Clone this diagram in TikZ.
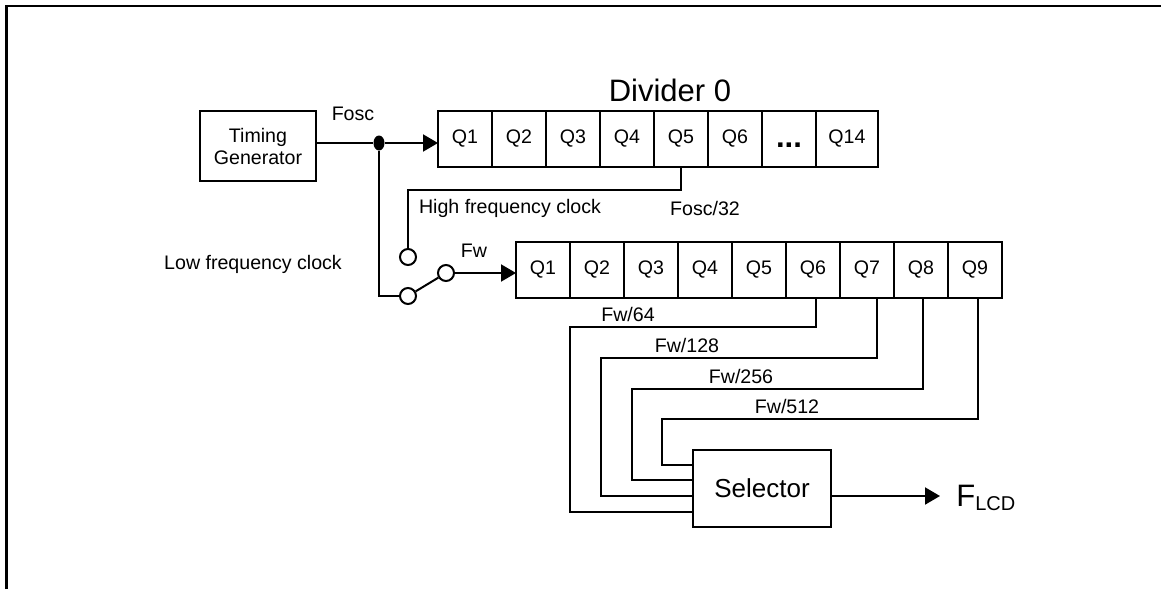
\documentclass[tikz,border=0pt]{standalone}
\usepackage{fontspec}
\setmainfont{Liberation Sans}
\usetikzlibrary{shapes.geometric, arrows.meta, positioning}
\newcommand{\lblfont}{\fontsize{9.8}{11}\selectfont}
\newcommand{\titlefont}{\fontsize{15.5}{18}\selectfont}
\newcommand{\selfont}{\fontsize{13}{15}\selectfont}
\tikzstyle{block} = [rectangle, 
draw=black, 
line width=1pt, 
minimum width=58pt, 
minimum height=35pt, 
text centered, 
font=\lblfont]
\tikzstyle{cell} = [rectangle, 
draw=black, 
line width=1pt, 
minimum width=27pt, 
minimum height=28pt, 
inner sep=0pt, 
outer sep=0pt, 
font=\lblfont]
\tikzstyle{terminal} = [circle, draw=black, fill=white, line width=1pt, minimum size=8pt, inner sep=0pt]
\tikzstyle{junction} = [ellipse, fill=black, minimum width=5.5pt, minimum height=7.5pt, inner sep=0pt]
\tikzstyle{lbl} = [font=\lblfont, inner sep=1pt]
\tikzstyle{title} = [font=\titlefont, inner sep=1pt]
\tikzstyle{frame} = [line width=1.4pt]
\tikzstyle{wire} = [line width=1pt]
\tikzstyle{arrow} = [line width=1pt, -{Triangle[length=7.5pt, width=8.5pt]}]

\begin{document}
\begin{tikzpicture}[x=0.5pt, y=-0.5pt]
\useasboundingbox (0,0) rectangle (1161,589);
\draw [frame] (6.5,589) -- (6.5,6) -- (1161,6);

\node (tg) [block, align=center] at (258,146) {Timing\\Generator};

\node (fork) [junction] at (379,143) {};

\node (fosc) [lbl] at (353,114) {Fosc};

% Divider 0
\node (d0q1) [cell, anchor=west] at (438,138.5) {Q1};
\node (d0q2) [cell, right=0pt of d0q1] {Q2};
\node (d0q3) [cell, right=0pt of d0q2] {Q3};
\node (d0q4) [cell, right=0pt of d0q3] {Q4};
\node (d0q5) [cell, right=0pt of d0q4] {Q5};
\node (d0q6) [cell, right=0pt of d0q5] {Q6};
\node (d0dots) [cell, right=0pt of d0q6] {\vphantom{Q}\raisebox{-2pt}{\titlefont\textbf{...}}};
\node (d0q14) [cell, right=0pt of d0dots, minimum width=31pt] {Q14};

\node (div0) [title] at (670,90) {Divider 0};

% clock switch
\node (hi) [terminal] at (408,257) {};
\node (lo) [terminal] at (408,296) {};
\node (sw) [terminal] at (446,273) {};

\node (hfc) [lbl] at (510,208) {High frequency clock};
\node (fdiv) [lbl] at (705,208) {Fosc/32};
\node (lfc) [lbl] at (253,264) {Low frequency clock};
\node (fw) [lbl] at (474,251) {Fw};

% second divider
\node (d1q1) [cell, anchor=west] at (516,270) {Q1};
\node (d1q2) [cell, right=0pt of d1q1] {Q2};
\node (d1q3) [cell, right=0pt of d1q2] {Q3};
\node (d1q4) [cell, right=0pt of d1q3] {Q4};
\node (d1q5) [cell, right=0pt of d1q4] {Q5};
\node (d1q6) [cell, right=0pt of d1q5] {Q6};
\node (d1q7) [cell, right=0pt of d1q6] {Q7};
\node (d1q8) [cell, right=0pt of d1q7] {Q8};
\node (d1q9) [cell, right=0pt of d1q8] {Q9};

\node (fw64) [lbl] at (628,314) {Fw/64};
\node (fw128) [lbl] at (687,345) {Fw/128};
\node (fw256) [lbl] at (741,376) {Fw/256};
\node (fw512) [lbl] at (787,406) {Fw/512};

\coordinate (r64) at (570,327);
\coordinate (r128) at (601,358);
\coordinate (r256) at (632,389);
\coordinate (r512) at (662,419);

\node (sel) [block, font=\selfont, minimum width=69pt, minimum height=38.5pt] at (762,488.5) {Selector};

\node (flcd) [anchor=base west, inner xsep=8pt] at (940,506) {\titlefont F\raisebox{-2pt}{\fontsize{10}{12}\selectfont LCD}};

\draw [wire] (tg.east |- fork) -- (fork);
\draw [arrow] (fork) -- (fork -| d0q1.west);
\draw [wire] (d0q5.south) -- ++(0,23) -| (hi);
\draw [wire] (fork) |- (lo);
\draw [wire] (lo) -- (sw);
\draw [arrow] (sw) -- (sw -| d1q1.west);
\draw [wire] ([xshift=1.5pt]d1q6.south) |- (r64) |- ([yshift=-11.75pt]sel.west);
\draw [wire] ([xshift=5pt]d1q7.south) |- (r128) |- ([yshift=-3.75pt]sel.west);
\draw [wire] ([xshift=1pt]d1q8.south) |- (r256) |- ([yshift=4.25pt]sel.west);
\draw [wire] ([xshift=1.5pt]d1q9.south) |- (r512) |- ([yshift=11.75pt]sel.west);
\draw [arrow] ([yshift=-3.75pt]sel.east) -- ([yshift=-3.75pt]sel.east -| flcd.west);
\end{tikzpicture}
\end{document}
